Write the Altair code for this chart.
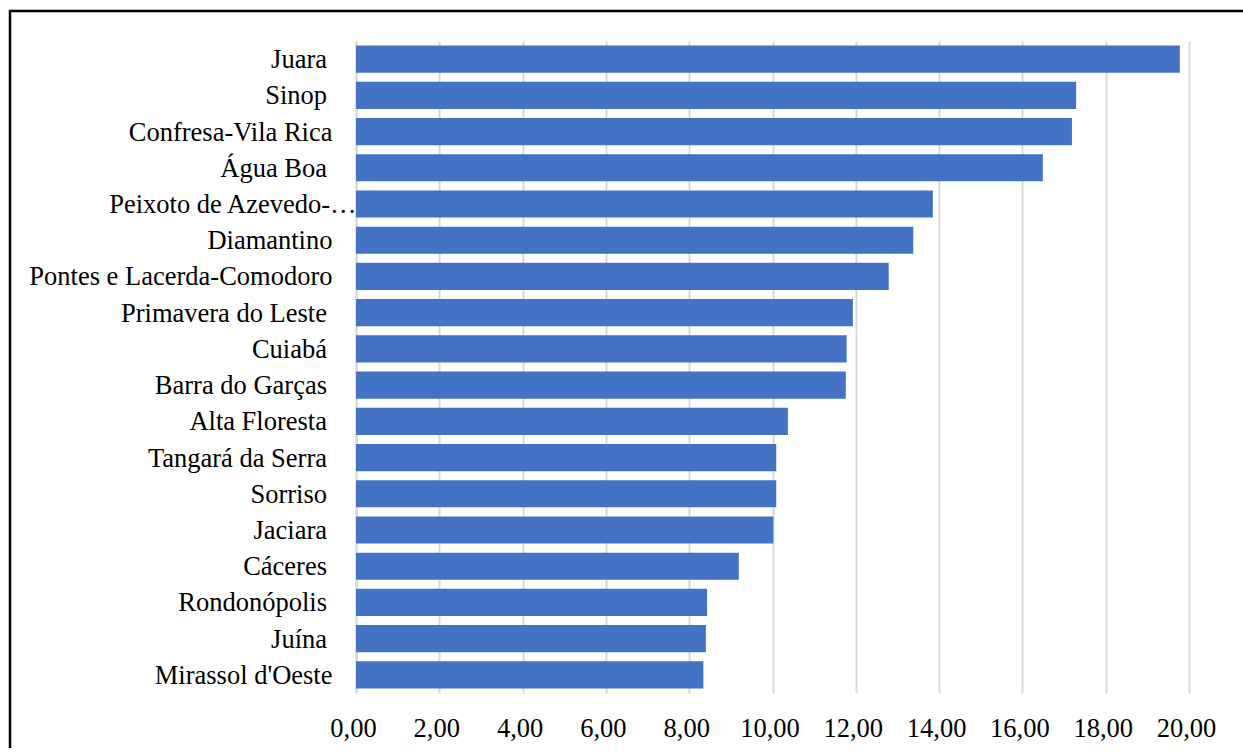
import altair as alt
import pandas as pd

# Category labels as they appear in the source (several carry a trailing space)
categories = [
    "Juara ", "Sinop ", "Confresa-Vila Rica", "Água Boa ",
    "Peixoto de Azevedo-…", "Diamantino", "Pontes e Lacerda-Comodoro",
    "Primavera do Leste ", "Cuiabá ", "Barra do Garças ",
    "Alta Floresta ", "Tangará da Serra ", "Sorriso ",
    "Jaciara ", "Cáceres ", "Rondonópolis ", "Juína ",
    "Mirassol d'Oeste",
]
values = [19.78, 17.29, 17.19, 16.49, 13.85, 13.38, 12.79, 11.93, 11.78,
          11.76, 10.37, 10.09, 10.09, 10.02, 9.19, 8.43, 8.40, 8.34]
x_ticks = [0, 2, 4, 6, 8, 10, 12, 14, 16, 18, 20]

df = pd.DataFrame({"regiao": categories, "valor": values})

FONT = "Liberation Serif"

bars = alt.Chart(df).mark_bar(color="#4472C4").encode(
    x=alt.X(
        "valor:Q",
        scale=alt.Scale(domain=[0, 20], nice=False, zero=True),
        axis=alt.Axis(
            values=x_ticks,
            labelExpr="replace(format(datum.value, '.2f'), '.', ',')",
            title=None,
            grid=True,
            gridColor="#d9d9d9",
            gridWidth=2,
            domain=False,
            ticks=False,
            tickSize=0,
            labelOverlap=False,
            labelFlush=False,
            labelPadding=22,
            labelOffset=-3,
            labelFont=FONT,
            labelFontSize=26.5,
            labelColor="#000000",
        ),
    ),
    y=alt.Y(
        "regiao:N",
        sort=categories,
        scale=alt.Scale(paddingInner=0.25, paddingOuter=0.125),
        axis=alt.Axis(
            title=None,
            domain=True,
            domainColor="#d9d9d9",
            domainWidth=2,
            ticks=False,
            tickSize=0,
            grid=False,
            labelLimit=500,
            labelOverlap=False,
            labelPadding={
                "condition": [
                    {"test": "datum.value == 'Peixoto de Azevedo-…'", "value": 0},
                    {"test": "slice(datum.value, -1) == ' '", "value": 29.5},
                ],
                "value": 24,
            },
            labelOffset=1,
            labelFont=FONT,
            labelFontSize=26.5,
            labelColor="#000000",
        ),
    ),
)

frame_top = alt.Chart(alt.Data(values=[{}])).mark_rule(
    color="#000000", strokeWidth=2.5
).encode(
    x=alt.value(-347),
    x2=alt.value(1000),
    y=alt.value(-30),
)
frame_left = alt.Chart(alt.Data(values=[{}])).mark_rule(
    color="#000000", strokeWidth=2.5
).encode(
    x=alt.value(-346),
    y=alt.value(-31),
    y2=alt.value(707),
)

chart = alt.layer(frame_top, frame_left, bars).properties(
    width=833,
    height=652,
    autosize=alt.AutoSizeParams(type="none"),
    padding={"left": 356, "top": 41, "right": 54, "bottom": 55},
    background="white",
).configure_view(stroke=None)

chart.save("out.html", embed_options={"renderer": "svg", "actions": False})
